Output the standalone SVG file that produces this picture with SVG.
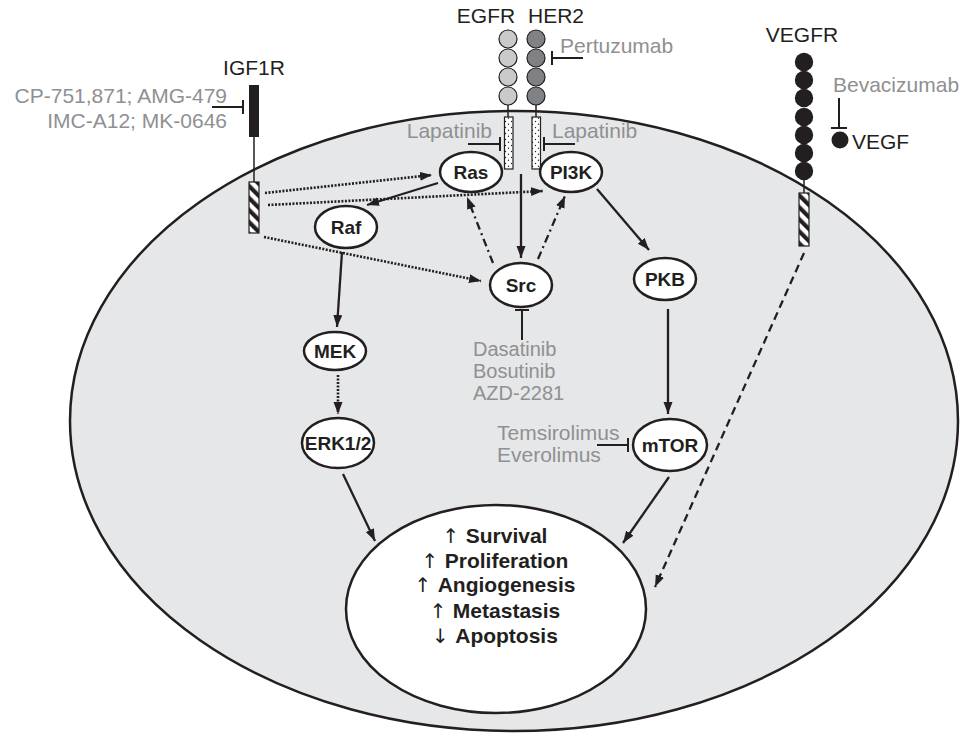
<svg xmlns="http://www.w3.org/2000/svg" width="960" height="737" viewBox="0 0 960 737">
<style>
text{font-family:"Liberation Sans",Arial,Helvetica,sans-serif;}
.lbl{font-size:21px;fill:#231f20;}
.drug{font-size:21px;fill:#8f9092;}
.node{fill:#fff;stroke:#231f20;stroke-width:2.5;}
.nl{font-size:19px;font-weight:bold;fill:#231f20;text-anchor:middle;}
.out{font-size:21px;font-weight:bold;fill:#231f20;text-anchor:middle;}
.ar{font-family:"DejaVu Sans",sans-serif;font-weight:normal;fill:#231f20;font-size:20px;}
.c{fill:none;stroke:#231f20;stroke-width:2.3;}
.dot{stroke-dasharray:2,1.5;stroke-width:2.6;}
.dd{stroke-dasharray:8,4,2,4;}
.dash{stroke-dasharray:8,5;}
.inh{fill:none;stroke:#231f20;stroke-width:2;}
.thin{stroke:#231f20;stroke-width:1.5;}
</style>
<defs>
<marker id="ah" markerUnits="userSpaceOnUse" markerWidth="13" markerHeight="10" refX="12" refY="4.5" orient="auto">
<path d="M0,0 L12,4.5 L0,9 z" fill="#231f20"/>
</marker>
<pattern id="hatch" patternUnits="userSpaceOnUse" width="8.5" height="8.5" patternTransform="rotate(-45)">
<rect width="8.5" height="8.5" fill="#fff"/>
<rect width="4.2" height="8.5" fill="#231f20"/>
</pattern>
<pattern id="stip" patternUnits="userSpaceOnUse" width="6" height="6">
<rect width="6" height="6" fill="#fff"/>
<circle cx="1.5" cy="1.5" r="0.7" fill="#231f20"/>
<circle cx="4.5" cy="4.2" r="0.7" fill="#231f20"/>
</pattern>
</defs>

<g id="cell">
<ellipse cx="514" cy="421" rx="444" ry="310" fill="#e6e7e8" stroke="#231f20" stroke-width="2.5"/>
</g>

<g id="IGF1R">
<text class="lbl" x="254" y="75" text-anchor="middle">IGF1R</text>
<line class="thin" x1="254" y1="137" x2="254" y2="182"/>
<rect x="249" y="85" width="10" height="52" fill="#231f20"/>
<rect x="249" y="182" width="10" height="51" fill="url(#hatch)" stroke="#231f20" stroke-width="1.2"/>
</g>
<g id="IGF1R-drugs">
<text class="drug" x="227" y="103" text-anchor="end">CP-751,871; AMG-479</text>
<text class="drug" x="227" y="128" text-anchor="end">IMC-A12; MK-0646</text>
<line class="inh" x1="212" y1="107" x2="243" y2="107"/>
<line class="inh" x1="243" y1="100" x2="243" y2="114"/>
</g>

<g id="EGFR">
<text class="lbl" x="486" y="23" text-anchor="middle">EGFR</text>
<line class="thin" x1="508" y1="104" x2="508" y2="117"/>
<circle cx="508" cy="39" r="9" fill="#c9cacb" stroke="#231f20" stroke-width="1.2"/>
<circle cx="508" cy="58" r="9" fill="#c9cacb" stroke="#231f20" stroke-width="1.2"/>
<circle cx="508" cy="77" r="9" fill="#c9cacb" stroke="#231f20" stroke-width="1.2"/>
<circle cx="508" cy="96" r="9" fill="#c9cacb" stroke="#231f20" stroke-width="1.2"/>
<rect x="504.5" y="117" width="8.5" height="52" fill="url(#stip)" stroke="#231f20" stroke-width="1.2"/>
</g>
<g id="HER2">
<text class="lbl" x="556" y="23" text-anchor="middle">HER2</text>
<line class="thin" x1="536" y1="104" x2="536" y2="117"/>
<circle cx="536" cy="39" r="9" fill="#808184" stroke="#231f20" stroke-width="1.2"/>
<circle cx="536" cy="58" r="9" fill="#808184" stroke="#231f20" stroke-width="1.2"/>
<circle cx="536" cy="77" r="9" fill="#808184" stroke="#231f20" stroke-width="1.2"/>
<circle cx="536" cy="96" r="9" fill="#808184" stroke="#231f20" stroke-width="1.2"/>
<rect x="532" y="117" width="8.5" height="52" fill="url(#stip)" stroke="#231f20" stroke-width="1.2"/>
</g>
<g id="EGFR-drugs">
<text class="drug" x="560" y="53">Pertuzumab</text>
<line class="inh" x1="583" y1="58" x2="552" y2="58"/>
<line class="inh" x1="552" y1="51" x2="552" y2="65"/>
<text class="drug" x="492" y="138" text-anchor="end">Lapatinib</text>
<line class="inh" x1="468" y1="144" x2="500" y2="144"/>
<line class="inh" x1="500" y1="137" x2="500" y2="151"/>
<text class="drug" x="552" y="138">Lapatinib</text>
<line class="inh" x1="575" y1="144" x2="544" y2="144"/>
<line class="inh" x1="544" y1="137" x2="544" y2="151"/>
</g>

<g id="VEGFR">
<text class="lbl" x="802" y="42" text-anchor="middle">VEGFR</text>
<line class="thin" x1="804" y1="178" x2="804" y2="193"/>
<g fill="#231f20">
<circle cx="804" cy="62" r="9.2"/>
<circle cx="804" cy="80" r="9.2"/>
<circle cx="804" cy="98" r="9.2"/>
<circle cx="804" cy="117" r="9.2"/>
<circle cx="804" cy="135" r="9.2"/>
<circle cx="804" cy="153" r="9.2"/>
<circle cx="804" cy="171" r="9.2"/>
</g>
<rect x="799" y="193" width="10" height="53" fill="url(#hatch)" stroke="#231f20" stroke-width="1.2"/>
</g>
<g id="VEGF">
<text class="drug" x="833" y="92">Bevacizumab</text>
<line class="inh" x1="839" y1="98" x2="839" y2="128"/>
<line class="inh" x1="831" y1="128" x2="847" y2="128"/>
<circle cx="840" cy="140" r="8.5" fill="#231f20"/>
<text class="lbl" x="852" y="149">VEGF</text>
</g>

<g id="connectors">
<line class="c dot" x1="265" y1="193" x2="432" y2="175" marker-end="url(#ah)"/>
<line class="c dot" x1="268" y1="205" x2="543" y2="191" marker-end="url(#ah)"/>
<line class="c dot" x1="264" y1="237" x2="481" y2="281" marker-end="url(#ah)"/>
<line class="c" x1="438" y1="183" x2="367" y2="205" marker-end="url(#ah)"/>
<line class="c" x1="342" y1="252" x2="337" y2="327" marker-end="url(#ah)"/>
<line class="c dot" x1="338" y1="375" x2="338" y2="414" marker-end="url(#ah)"/>
<line class="c" x1="521" y1="174" x2="521" y2="258" marker-end="url(#ah)"/>
<line class="c dd" x1="493" y1="263" x2="467" y2="197" marker-end="url(#ah)"/>
<line class="c dd" x1="538" y1="259" x2="565" y2="196" marker-end="url(#ah)"/>
<line class="c" x1="597" y1="189" x2="649" y2="250" marker-end="url(#ah)"/>
<line class="c" x1="668" y1="309" x2="668" y2="414" marker-end="url(#ah)"/>
<line class="c" x1="343" y1="474" x2="375" y2="541" marker-end="url(#ah)"/>
<line class="c" x1="669" y1="477" x2="623" y2="543" marker-end="url(#ah)"/>
<line class="c dash" x1="804" y1="253" x2="655" y2="587" marker-end="url(#ah)"/>
</g>

<g id="Ras"><ellipse class="node" cx="471" cy="172" rx="31" ry="20"/><text class="nl" x="471" y="178.5">Ras</text></g>
<g id="PI3K"><ellipse class="node" cx="571" cy="172" rx="31" ry="20"/><text class="nl" x="571" y="178.5">PI3K</text></g>
<g id="Raf"><ellipse class="node" cx="346" cy="227" rx="31" ry="21"/><text class="nl" x="346" y="233.5">Raf</text></g>
<g id="Src"><ellipse class="node" cx="521" cy="285" rx="31" ry="22"/><text class="nl" x="521" y="291.5">Src</text></g>
<g id="PKB"><ellipse class="node" cx="665" cy="279" rx="31" ry="21"/><text class="nl" x="665" y="285.5">PKB</text></g>
<g id="MEK"><ellipse class="node" cx="335" cy="351" rx="31" ry="19"/><text class="nl" x="335" y="357.5">MEK</text></g>
<g id="ERK"><ellipse class="node" cx="338" cy="443" rx="36" ry="25"/><text class="nl" x="338" y="449.5">ERK1/2</text></g>
<g id="mTOR"><ellipse class="node" cx="670" cy="445" rx="37" ry="26"/><text class="nl" x="670" y="451.5">mTOR</text></g>

<g id="Src-drugs">
<line class="inh" x1="522" y1="310" x2="522" y2="340"/>
<line class="inh" x1="515" y1="310" x2="529" y2="310"/>
<text class="drug" x="473" y="356" style="font-size:20px">Dasatinib</text>
<text class="drug" x="473" y="378" style="font-size:20px">Bosutinib</text>
<text class="drug" x="473" y="400" style="font-size:20px">AZD-2281</text>
</g>
<g id="mTOR-drugs">
<text class="drug" x="497" y="440">Temsirolimus</text>
<text class="drug" x="497" y="462">Everolimus</text>
<line class="inh" x1="597" y1="445" x2="628" y2="445"/>
<line class="inh" x1="628" y1="438" x2="628" y2="452"/>
</g>

<g id="outcome">
<ellipse class="node" cx="496" cy="609" rx="150" ry="104"/>
<text class="out" x="495" y="543"><tspan class="ar">↑ </tspan>Survival</text>
<text class="out" x="495" y="568"><tspan class="ar">↑ </tspan>Proliferation</text>
<text class="out" x="495" y="592"><tspan class="ar">↑ </tspan>Angiogenesis</text>
<text class="out" x="495" y="618"><tspan class="ar">↑ </tspan>Metastasis</text>
<text class="out" x="495" y="643"><tspan class="ar">↓ </tspan>Apoptosis</text>
</g>
</svg>
